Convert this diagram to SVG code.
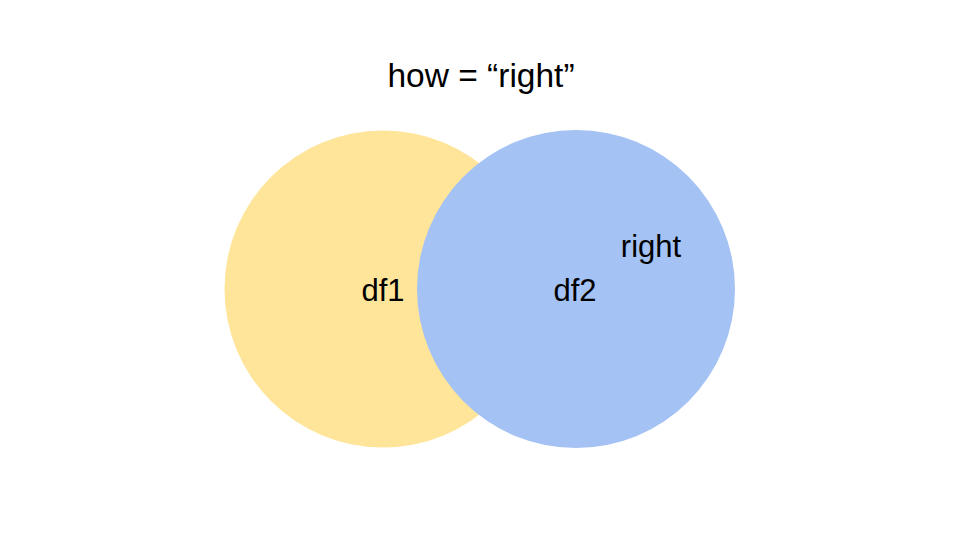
<svg xmlns="http://www.w3.org/2000/svg" width="960" height="540" viewBox="0 0 960 540">
<style>
text{font-family:"Liberation Sans",Arial,sans-serif;fill:#000}
.lbl{font-size:31px}
</style>
<rect width="960" height="540" fill="#fff"/>
<g id="df1"><circle cx="383" cy="289" r="158.5" fill="#ffe599"/></g>
<g id="df2"><circle cx="576" cy="289" r="159" fill="#a4c2f4"/></g>
<g id="connectors"></g>
<text x="481" y="87" font-size="33.5" text-anchor="middle">how = “right”</text>
<text class="lbl" x="383" y="301" text-anchor="middle">df1</text>
<text class="lbl" x="575" y="301" text-anchor="middle">df2</text>
<text class="lbl" x="651" y="257" text-anchor="middle">right</text>
</svg>
